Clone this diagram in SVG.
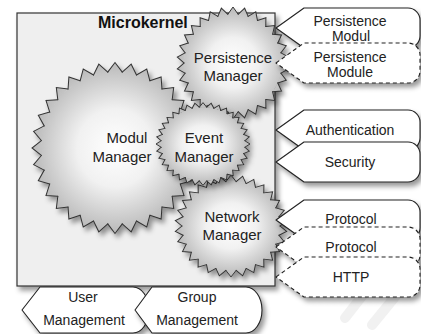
<svg xmlns="http://www.w3.org/2000/svg" xmlns:xlink="http://www.w3.org/1999/xlink" width="421" height="334" viewBox="0 0 421 334">
<style>
  .t { font-family: "Liberation Sans", Arial, Helvetica, sans-serif; fill: #222; text-anchor: middle; }
  .g15 { font-size: 15px; }
  .g14 { font-size: 14px; }
  .tag { fill: #fff; stroke: #222; stroke-width: 1.1; stroke-linejoin: round; }
  .dash { stroke-dasharray: 4 3; }
  .gear { stroke: #333; stroke-width: 1; stroke-linejoin: miter; stroke-linecap: round; }
</style>
<defs>
  <filter id="sh" x="-20%" y="-20%" width="150%" height="150%">
    <feDropShadow dx="3" dy="4" stdDeviation="2.5" flood-color="#000" flood-opacity="0.4"/>
  </filter>
  <radialGradient id="gM" gradientUnits="userSpaceOnUse" cx="0" cy="0" r="84">
    <stop offset="0" stop-color="#ffffff"/>
    <stop offset="0.45" stop-color="#f1f1f1"/>
    <stop offset="1" stop-color="#b8b8b8"/>
  </radialGradient>
  <radialGradient id="gP" gradientUnits="userSpaceOnUse" cx="0" cy="0" r="56">
    <stop offset="0" stop-color="#ffffff"/>
    <stop offset="0.45" stop-color="#f1f1f1"/>
    <stop offset="1" stop-color="#b8b8b8"/>
  </radialGradient>
  <radialGradient id="gE" gradientUnits="userSpaceOnUse" cx="0" cy="0" r="47">
    <stop offset="0" stop-color="#ffffff"/>
    <stop offset="0.45" stop-color="#f1f1f1"/>
    <stop offset="1" stop-color="#b8b8b8"/>
  </radialGradient>
  <path id="tM" d="M-7.25,-73.64 L0,-83 L7.25,-73.64" fill="url(#gM)"/>
  <path id="tP" d="M-5.12,-48.73 L0,-56 L5.12,-48.73" fill="url(#gP)"/>
  <path id="tE" d="M-3.66,-41.84 L0,-47 L3.66,-41.84" fill="url(#gE)"/>
  <g id="qM"><use href="#tM"/><use href="#tM" transform="rotate(11.25)"/><use href="#tM" transform="rotate(22.5)"/><use href="#tM" transform="rotate(33.75)"/></g>
  <g id="qP"><use href="#tP"/><use href="#tP" transform="rotate(12)"/><use href="#tP" transform="rotate(24)"/><use href="#tP" transform="rotate(36)"/><use href="#tP" transform="rotate(48)"/></g>
  <g id="qE"><use href="#tE"/><use href="#tE" transform="rotate(10)"/><use href="#tE" transform="rotate(20)"/><use href="#tE" transform="rotate(30)"/><use href="#tE" transform="rotate(40)"/><use href="#tE" transform="rotate(50)"/></g>
  <g id="gearM"><circle r="74" fill="url(#gM)" stroke="none"/><use href="#qM"/><use href="#qM" transform="rotate(45)"/><use href="#qM" transform="rotate(90)"/><use href="#qM" transform="rotate(135)"/><use href="#qM" transform="rotate(180)"/><use href="#qM" transform="rotate(225)"/><use href="#qM" transform="rotate(270)"/><use href="#qM" transform="rotate(315)"/></g>
  <g id="gearP"><circle r="49" fill="url(#gP)" stroke="none"/><use href="#qP"/><use href="#qP" transform="rotate(60)"/><use href="#qP" transform="rotate(120)"/><use href="#qP" transform="rotate(180)"/><use href="#qP" transform="rotate(240)"/><use href="#qP" transform="rotate(300)"/></g>
  <g id="gearE"><circle r="42" fill="url(#gE)" stroke="none"/><use href="#qE"/><use href="#qE" transform="rotate(60)"/><use href="#qE" transform="rotate(120)"/><use href="#qE" transform="rotate(180)"/><use href="#qE" transform="rotate(240)"/><use href="#qE" transform="rotate(300)"/></g>
  <path id="rtag" d="M276,20 L304,0 H408 A12,12 0 0 1 420,12 V28 A12,12 0 0 1 408,40 H304 Z"/>
</defs>

<rect width="421" height="334" fill="#fff"/>
<g id="watermark" fill="none" stroke="#f1f1f1" stroke-width="10" stroke-linecap="round">
  <path d="M345,318 L398,250"/>
  <path d="M372,325 L412,276"/>
</g>

<g id="microkernel">
  <rect x="17" y="13" width="258" height="273" fill="#efefef" stroke="#333" stroke-width="1.2" filter="url(#sh)"/>
  <text x="98" y="28" font-family="Liberation Sans, Arial, sans-serif" font-weight="bold" font-size="16" fill="#111">Microkernel</text>
</g>

<g id="modul-manager">
  <g class="gear" filter="url(#sh)"><use href="#gearM" transform="translate(115,148) scale(1,1.03)"/></g>
  <text class="t g15" x="127" y="143">Modul</text>
  <text class="t g15" x="122" y="162">Manager</text>
</g>

<g id="persistence-manager">
  <g class="gear" filter="url(#sh)"><use href="#gearP" transform="translate(233,63)"/></g>
  <text class="t g15" x="233" y="63">Persistence</text>
  <text class="t g15" x="233" y="81">Manager</text>
</g>

<g id="network-manager">
  <g class="gear" filter="url(#sh)"><use href="#gearP" transform="translate(231,226) scale(1,0.91)"/></g>
  <text class="t g15" x="232" y="222">Network</text>
  <text class="t g15" x="232" y="240">Manager</text>
</g>

<g id="event-manager">
  <g class="gear" filter="url(#sh)"><use href="#gearE" transform="translate(203,144) scale(1,0.88)"/></g>
  <text class="t g15" x="204" y="143">Event</text>
  <text class="t g15" x="204" y="162">Manager</text>
</g>

<g id="persistence-modul">
  <use href="#rtag" class="tag" transform="translate(0,8)" filter="url(#sh)"/>
  <text class="t g14" x="350" y="26">Persistence</text>
  <text class="t g14" x="351" y="41">Modul</text>
</g>
<g id="persistence-module">
  <use href="#rtag" class="tag dash" transform="translate(0,43)" filter="url(#sh)"/>
  <text class="t g14" x="350" y="62">Persistence</text>
  <text class="t g14" x="350" y="77">Module</text>
</g>

<g id="authentication">
  <use href="#rtag" class="tag" transform="translate(0,110)" filter="url(#sh)"/>
  <text class="t g14" x="350" y="135">Authentication</text>
</g>
<g id="security">
  <use href="#rtag" class="tag" transform="translate(0,142)" filter="url(#sh)"/>
  <text class="t g14" x="350" y="167">Security</text>
</g>

<g id="protocol-1">
  <use href="#rtag" class="tag" transform="translate(0,200)" filter="url(#sh)"/>
  <text class="t g14" x="351" y="224">Protocol</text>
</g>
<g id="protocol-2">
  <use href="#rtag" class="tag dash" transform="translate(0,227)" filter="url(#sh)"/>
  <text class="t g14" x="351" y="252">Protocol</text>
</g>
<g id="http">
  <use href="#rtag" class="tag dash" transform="translate(0,257)" filter="url(#sh)"/>
  <text class="t g14" x="351" y="282">HTTP</text>
</g>

<g id="user-management">
  <path class="tag" d="M22,310 L40,287 H133 A16,23 0 0 1 133,333 H40 Z" filter="url(#sh)"/>
  <text class="t g14" x="83" y="302">User</text>
  <text class="t g14" x="84" y="325">Management</text>
</g>
<g id="group-management">
  <path class="tag" d="M135,310 L152,287 H246 A16,23 0 0 1 246,333 H152 Z" filter="url(#sh)"/>
  <text class="t g14" x="197" y="302">Group</text>
  <text class="t g14" x="197" y="325">Management</text>
</g>
</svg>
